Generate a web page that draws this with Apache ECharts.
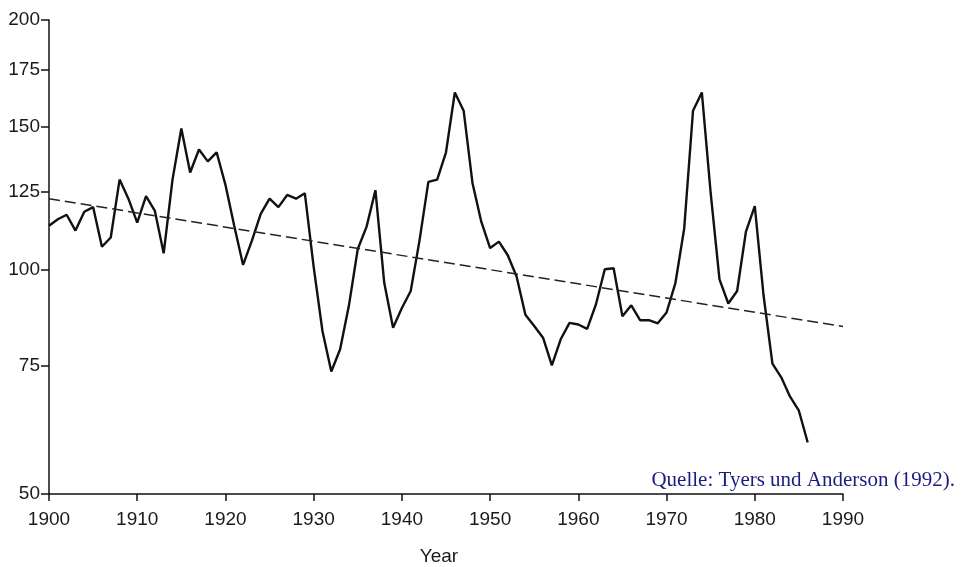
<!DOCTYPE html>
<html>
<head>
<meta charset="utf-8">
<title>Real food price index 1900-1986</title>
<script src="https://cdn.jsdelivr.net/npm/echarts@6/dist/echarts.min.js"></script>
<style>
  html, body { margin: 0; padding: 0; background: #fff; }
  #chart { width: 962px; height: 567px; }
</style>
</head>
<body>
<div id="chart"></div>
<script>
// index values, one per year starting 1900
var firstYear = 1900;
var indexValues = [
  113.5, 115.6, 117.1, 111.9, 118.1, 119.7, 106.8, 109.7, 129.4, 122.6,
  114.5, 123.5, 118.4, 104.8, 129.4, 149.2, 132.0, 140.8, 136.2, 139.7,
  127.5, 113.4, 101.3, 108.7, 117.4, 122.6, 119.7, 123.9, 122.6, 124.5,
  100.7, 83.2, 73.6, 78.8, 89.9, 106.1, 113.2, 125.6, 96.1, 84.1,
  89.2, 93.8, 108.8, 128.6, 129.4, 139.7, 164.7, 156.7, 128.2, 114.8,
  106.4, 108.4, 104.2, 97.9, 87.4, 84.5, 81.6, 75.0, 81.2, 85.3,
  84.9, 83.8, 90.2, 100.0, 100.3, 87.0, 89.9, 86.0, 86.0, 85.2,
  88.0, 96.0, 112.6, 156.7, 164.7, 124.6, 97.1, 90.4, 93.8, 111.6,
  120.0, 92.5, 75.4, 72.3, 68.1, 65.2, 59.0
];
// dashed trend line end points
var trendYears = [1900, 1990];
var trendValues = [122.6, 84.4];
var yTicks = [50, 75, 100, 125, 150, 175, 200];

// the printed y scale is compressed like a log scale; a power of 0.15 fits its ticks
var AXIS_POWER = 0.15;
function toAxis(v) { return Math.pow(v, AXIS_POWER); }
function fromAxis(t) { return Math.pow(t, 1 / AXIS_POWER); }

var lineData = indexValues.map(function (v, i) {
  return [firstYear + i, toAxis(v)];
});
var trendData = trendYears.map(function (yr, i) {
  return [yr, toAxis(trendValues[i])];
});
var yTickPos = yTicks.map(toAxis);

var chart = echarts.init(document.getElementById('chart'));
chart.setOption({
  backgroundColor: '#fff',
  animation: false,
  grid: { left: 49, right: 119, top: 20, bottom: 73, outerBoundsMode: 'none', containLabel: false },
  xAxis: {
    type: 'value',
    min: 1900,
    max: 1990,
    interval: 10,
    name: 'Year',
    nameLocation: 'middle',
    nameGap: 53,
    nameTextStyle: {
      color: '#1a1a1a', fontSize: 19, fontFamily: 'Liberation Sans',
      padding: [0, 14, 0, 0]
    },
    axisLine: { lineStyle: { color: '#111', width: 1.5 } },
    axisTick: { length: 7, lineStyle: { color: '#111', width: 1.5 } },
    axisLabel: {
      margin: 16,
      color: '#1a1a1a',
      fontSize: 19,
      fontFamily: 'Liberation Sans',
      formatter: function (v) { return String(v); }
    },
    splitLine: { show: false }
  },
  yAxis: {
    type: 'value',
    min: toAxis(50),
    max: toAxis(200),
    axisLine: { show: true, lineStyle: { color: '#111', width: 1.5 } },
    axisTick: {
      show: true, length: 8, customValues: yTickPos,
      lineStyle: { color: '#111', width: 1.5 }
    },
    axisLabel: {
      margin: 9,
      color: '#1a1a1a',
      fontSize: 19,
      fontFamily: 'Liberation Sans',
      customValues: yTickPos,
      formatter: function (t) { return String(Math.round(fromAxis(t))); }
    },
    splitLine: { show: false }
  },
  series: [
    {
      name: 'Index',
      type: 'line',
      data: lineData,
      symbol: 'none',
      lineStyle: { color: '#111', width: 2.4 }
    },
    {
      name: 'Trend',
      type: 'line',
      data: trendData,
      symbol: 'none',
      lineStyle: { color: '#222', width: 1.5, type: [11, 5] }
    }
  ],
  graphic: [{
    type: 'text',
    right: 7,
    top: 470,
    style: {
      text: 'Quelle: Tyers und Anderson (1992).',
      font: '21px "Liberation Serif"',
      fill: '#1c1c80'
    }
  }]
});
</script>
</body>
</html>
